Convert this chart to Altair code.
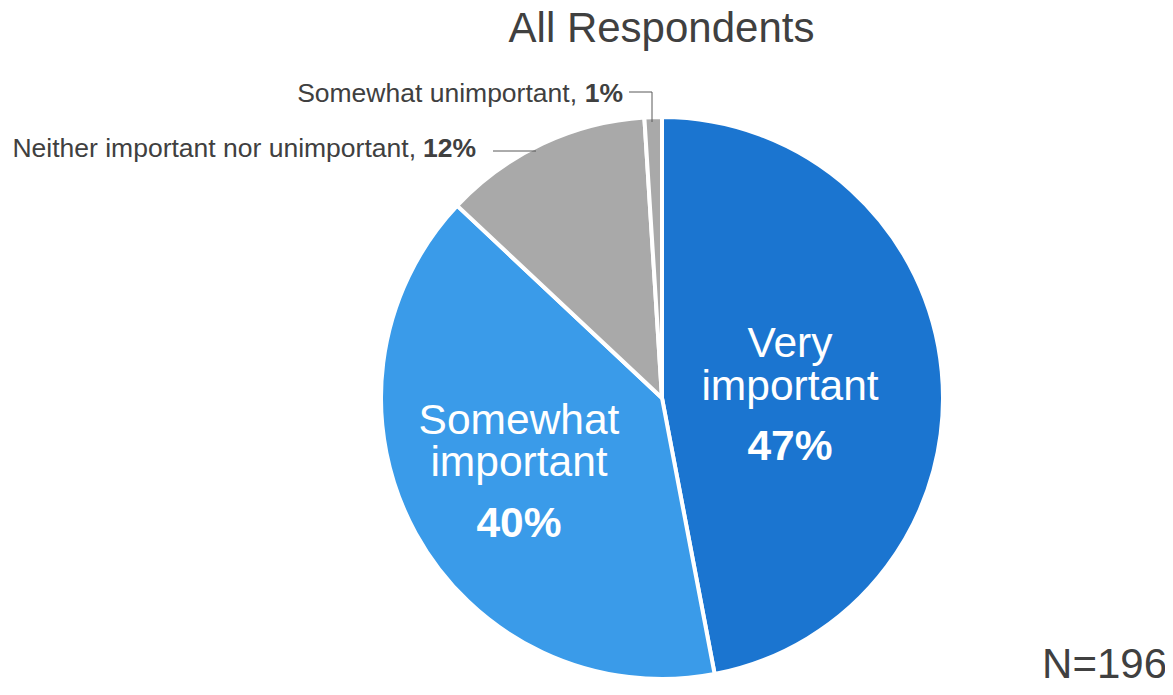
import altair as alt
import pandas as pd

categories = ["Very important", "Somewhat important",
              "Neither important nor unimportant", "Somewhat unimportant"]
values = [47, 40, 12, 1]
inner_names = ["Very\nimportant", "Somewhat\nimportant", "", ""]
outer_names = ["", "", "Neither important nor unimportant,", "Somewhat unimportant,"]
colors = ["#1B75D0", "#3A9BE9", "#A9A9A9", "#A9A9A9"]
title_text = "All Respondents"
n_text = "N=196"

df = pd.DataFrame({
    "category": categories,
    "value": values,
    "order": list(range(len(categories))),
    "name": inner_names,
    "outer": outer_names,
    "pct": [f"{v}%" for v in values],
})

W, H = 1157, 679
CX, CY = 654, 390
R = 281
FONT = "Liberation Sans"
TXT = "#404040"

pie = alt.Chart(df).mark_arc(outerRadius=R, stroke="white", strokeWidth=4).encode(
    theta=alt.Theta("value:Q", stack=True),
    order=alt.Order("order:Q"),
    color=alt.Color("category:N", scale=alt.Scale(domain=categories, range=colors), legend=None),
    x=alt.value(CX), y=alt.value(CY),
)


def label(cat, field, x, y, size, color, weight="normal", align="center", line_height=None):
    kw = dict(font=FONT, fontSize=size, color=color, fontWeight=weight, align=align,
              baseline="alphabetic", lineBreak="\n")
    if line_height:
        kw["lineHeight"] = line_height
    return alt.Chart(df).transform_filter(alt.datum.category == cat).mark_text(**kw).encode(
        text=alt.Text(f"{field}:N"), x=alt.value(x), y=alt.value(y))


layers = [
    pie,
    label("Very important", "name", 782, 349, 42.5, "white", line_height=43),
    label("Very important", "pct", 782, 452, 42.5, "white", weight="bold"),
    label("Somewhat important", "name", 511, 426, 42.5, "white", line_height=42),
    label("Somewhat important", "pct", 511, 529, 42.5, "white", weight="bold"),
    label("Neither important nor unimportant", "outer", 408, 149, 26.5, TXT, align="right"),
    label("Neither important nor unimportant", "pct", 468, 149, 26.5, TXT, weight="bold", align="right"),
    label("Somewhat unimportant", "outer", 569, 94, 26.5, TXT, align="right"),
    label("Somewhat unimportant", "pct", 615, 94, 26.5, TXT, weight="bold", align="right"),
]

rule_df = pd.DataFrame({"k": [0]})
lead = dict(color="#595959", strokeWidth=1)
layers += [
    alt.Chart(rule_df).mark_rule(**lead).encode(x=alt.value(485), x2=alt.value(528), y=alt.value(143)),
    alt.Chart(rule_df).mark_rule(**lead).encode(x=alt.value(621), x2=alt.value(644), y=alt.value(84)),
    alt.Chart(rule_df).mark_rule(**lead).encode(x=alt.value(644), y=alt.value(84), y2=alt.value(114)),
]

title_df = pd.DataFrame({"t": [title_text]})
n_df = pd.DataFrame({"t": [n_text]})
layers += [
    alt.Chart(title_df).mark_text(font=FONT, fontSize=42, color=TXT, align="center",
                                  baseline="alphabetic").encode(
        text="t:N", x=alt.value(653.5), y=alt.value(34)),
    alt.Chart(n_df).mark_text(font=FONT, fontSize=42, color=TXT, align="right",
                              baseline="alphabetic").encode(
        text="t:N", x=alt.value(1159), y=alt.value(670)),
]

chart = alt.layer(*layers).properties(
    width=W, height=H, padding=0, autosize=alt.AutoSizeParams(type="none")
).configure_view(stroke=None)

chart.save("out.html", embed_options={"renderer": "svg", "actions": False})
